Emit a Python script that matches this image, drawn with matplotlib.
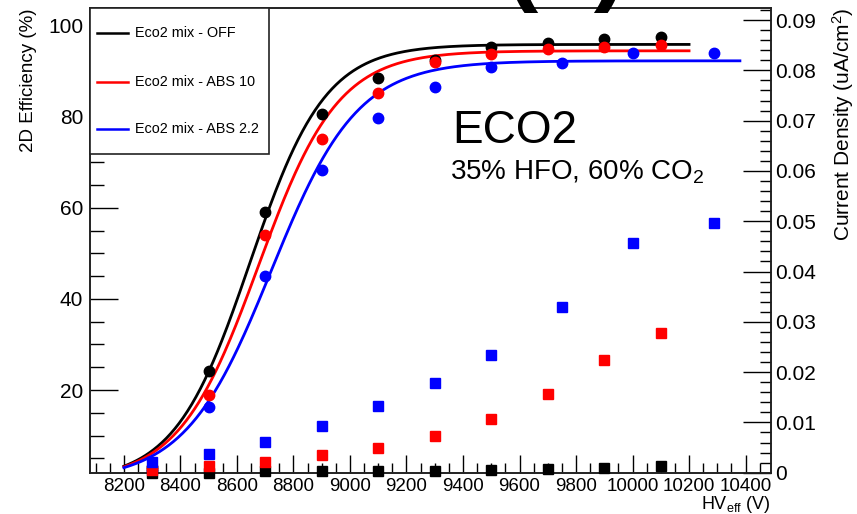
import numpy as np
import matplotlib
matplotlib.use("Agg")
import matplotlib.pyplot as plt
from matplotlib.ticker import MultipleLocator, FixedLocator
from matplotlib.patches import Rectangle
from matplotlib.lines import Line2D

plt.rcParams['font.family'] = ['Liberation Sans', 'DejaVu Sans']
plt.rcParams['mathtext.fontset'] = 'custom'
plt.rcParams['mathtext.rm'] = 'Liberation Sans'
plt.rcParams['mathtext.it'] = 'Liberation Sans'

# ---- data ----
hv_off = [8300, 8500, 8700, 8900, 9100, 9300, 9500, 9700, 9900, 10100]
eff_off = [3.0, 24.2, 59.1, 80.6, 88.5, 92.5, 95.4, 96.3, 97.0, 97.6]
cur_off = [0.0000, 0.0000, 0.0003, 0.0003, 0.0004, 0.0004, 0.0005, 0.0008, 0.0009, 0.0013]

hv_abs10 = [8300, 8500, 8700, 8900, 9100, 9300, 9500, 9700, 9900, 10100]
eff_abs10 = [2.6, 18.9, 54.0, 75.1, 85.2, 92.1, 93.8, 94.9, 95.4, 95.8]
cur_abs10 = [0.0005, 0.0013, 0.0022, 0.0035, 0.0050, 0.0072, 0.0106, 0.0156, 0.0225, 0.0278]

hv_abs22 = [8300, 8500, 8700, 8900, 9100, 9300, 9500, 9750, 10000, 10290]
eff_abs22 = [2.2, 16.3, 45.0, 68.3, 79.7, 86.6, 91.0, 91.9, 94.0, 94.0]
cur_abs22 = [0.0022, 0.0037, 0.0062, 0.0093, 0.0133, 0.0178, 0.0235, 0.0330, 0.0456, 0.0496]

# sigmoid fit parameters: (Emax, lambda, HV50, HV start, HV end)
fit_off = (95.9, 0.0075, 8646, 8200, 10200)
fit_abs10 = (94.5, 0.00709, 8676, 8200, 10200)
fit_abs22 = (92.3, 0.00655, 8721, 8200, 10380)

labels = ["Eco2 mix - OFF", "Eco2 mix - ABS 10", "Eco2 mix - ABS 2.2"]
colors = ["black", "#ff0000", "#0000ff"]

W, H = 857, 514


def fx(px):
    return px / W


def fy(py):
    return 1 - py / H


fig = plt.figure(figsize=(W / 100, H / 100), dpi=100)
ax = fig.add_axes([fx(90), fy(472.7), (771 - 90) / W, (472.7 - 8) / H])
ax2 = ax.twinx()

ax.set_xlim(8080, 10490)
ax.set_ylim(1.84, 103.9)
ax2.set_ylim(0, 0.0924)

series = [(hv_off, eff_off, cur_off, fit_off),
          (hv_abs10, eff_abs10, cur_abs10, fit_abs10),
          (hv_abs22, eff_abs22, cur_abs22, fit_abs22)]

for (hv, eff, cur, fit), c, lab in zip(series, colors, labels):
    emax, lam, v50, v0, v1 = fit
    xs = np.linspace(v0, v1, 400)
    ys = emax / (1 + np.exp(-lam * (xs - v50)))
    ax.plot(xs, ys, color=c, lw=2, label=lab, zorder=3)
    ax.plot(hv, eff, 'o', color=c, ms=7.5, mec=c, zorder=4, clip_on=False)

for (hv, eff, cur, fit), c in zip(series, colors):
    ax2.plot(hv, cur, 's', color=c, ms=7.2, mec=c, zorder=5, clip_on=False)

# ticks
ax.xaxis.set_major_locator(MultipleLocator(200))
ax.xaxis.set_minor_locator(MultipleLocator(50))
ax.yaxis.set_major_locator(FixedLocator([20, 40, 60, 80, 100]))
ax.yaxis.set_minor_locator(MultipleLocator(5))
ax2.yaxis.set_major_locator(MultipleLocator(0.01))
ax2.yaxis.set_minor_locator(MultipleLocator(0.002))

ax.tick_params(axis='x', which='major', direction='in', length=13, width=1, labelsize=13.5, pad=4)
ax.tick_params(axis='x', which='minor', direction='in', length=7, width=1)
ax.tick_params(axis='y', which='major', direction='in', length=20, width=1, labelsize=15, pad=5)
ax.tick_params(axis='y', which='minor', direction='in', length=10, width=1)
ax.tick_params(top=False, right=False, which='both')
ax2.tick_params(axis='y', which='major', direction='in', length=20, width=1, labelsize=15, pad=3)
ax2.tick_params(axis='y', which='minor', direction='in', length=8, width=1)

ax2.yaxis.set_major_formatter(matplotlib.ticker.FuncFormatter(
    lambda v, p: "0" if abs(v) < 1e-9 else f"{v:.2f}"))

for a in (ax, ax2):
    for s in a.spines.values():
        s.set_linewidth(1.2)
        s.set_color('#222222')

ax.set_ylabel("2D Efficiency (%)", fontsize=13.5, loc='top', labelpad=8)
ax2.set_ylabel("Current Density (uA/cm$^2$)", fontsize=15, loc='top', labelpad=10)
ax.set_xlabel("HV$_{\\mathrm{eff}}$ (V)", fontsize=13, loc='right', labelpad=-1)

# legend box (drawn in figure pixel positions)
fig.add_artist(Rectangle((fx(90), fy(154)), (269 - 90) / W, (154 - 8) / H,
                         transform=fig.transFigure, facecolor='white',
                         edgecolor='#222222', lw=1.2, zorder=10))
for lab, c, ypx in zip(labels, colors, [33.3, 81.7, 129.3]):
    fig.add_artist(Line2D([fx(97), fx(128)], [fy(ypx), fy(ypx)],
                          transform=fig.transFigure, color=c, lw=1.8, zorder=11))
    fig.text(fx(135), fy(ypx), lab, fontsize=10.4, ha='left', va='center', zorder=11)

fig.text(fx(452), fy(131), "ECO2", fontsize=33, va='center', ha='left')
fig.text(fx(450), fy(172), "35% HFO, 60% CO$_2$", fontsize=20, va='center', ha='left')

# big title, cut off by the top edge of the picture
fig.text(fx(566), fy(-8), "(a)", fontsize=72, fontweight='bold', ha='center', va='baseline')

fig.savefig("out.png", dpi=100)
